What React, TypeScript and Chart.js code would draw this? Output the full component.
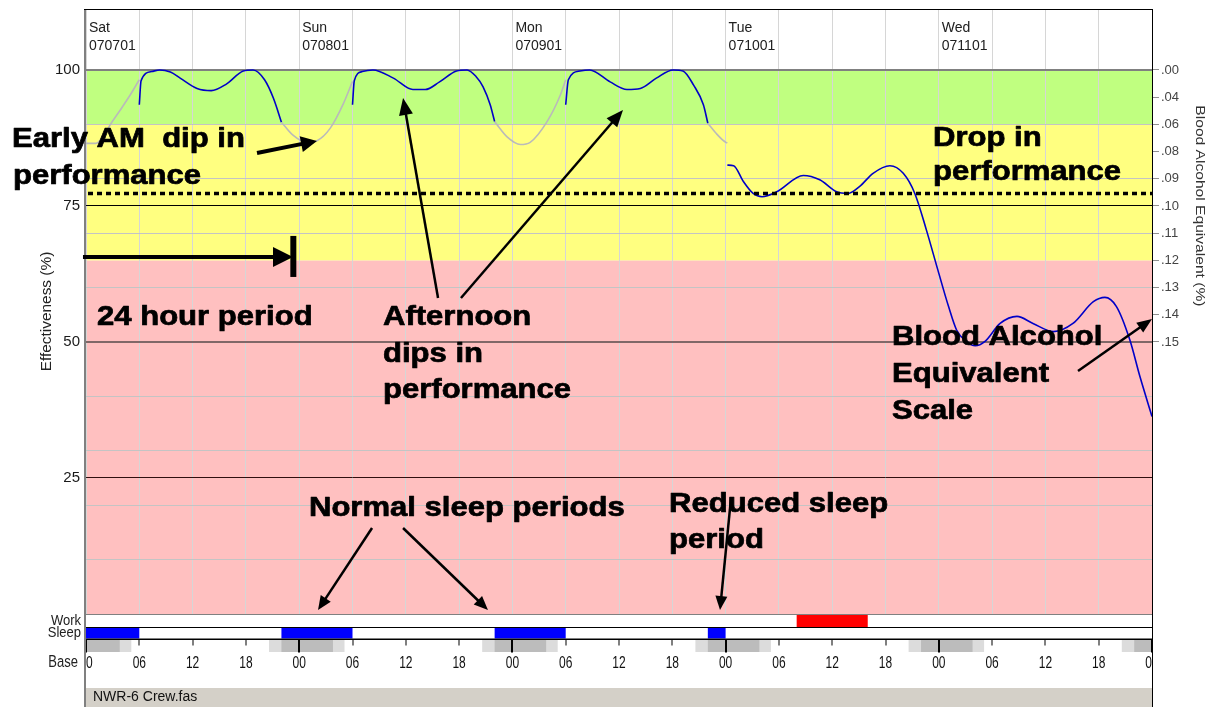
import React, { useEffect, useRef } from 'react';
import { Chart, registerables } from 'chart.js';

Chart.register(...registerables);

// ---------------- data ----------------
const dayNames = ['Sat', 'Sun', 'Mon', 'Tue', 'Wed'];
const dayDates = ['070701', '070801', '070901', '071001', '071101'];
const dayStartHours = [0, 24, 48, 72, 96];
const hourTicks = [0, 6, 12, 18, 24, 30, 36, 42, 48, 54, 60, 66, 72, 78, 84, 90, 96, 102, 108, 114, 120];

const gridLevels = [10, 20, 25, 30, 40, 50, 60, 70, 75, 80, 90, 100];
const labelLevels = [25, 50, 75, 100];
const baeLevels = [100, 95, 90, 85, 80, 75, 70, 65, 60, 55, 50];
const baeLabels = ['.00', '.04', '.06', '.08', '.09', '.10', '.11', '.12', '.13', '.14', '.15'];

const bandEdges = [0, 65, 90, 100];
const bandColors = ['#ffc0c0', '#ffff80', '#c0ff80'];
const criterionLevel = 77.3;

// effectiveness while awake [hour, %]
const awakeSat: number[][] = [[6.0, 93.6], [6.2, 98.0], [7.4, 99.7], [8.3, 100], [9.5, 99.6], [10.6, 98.5], [12.5, 96.6], [14.1, 96.2], [15.8, 97.4], [17.7, 99.8], [18.8, 100], [20.1, 98.2], [21.1, 94.8], [22.0, 90.4]];
const awakeSun: number[][] = [[30.0, 93.6], [30.2, 98.0], [31.1, 99.7], [32.3, 100], [34.6, 98.5], [36.8, 96.4], [38.2, 96.4], [39.8, 97.8], [41.7, 99.8], [42.9, 100], [43.9, 98.8], [44.7, 96.9], [45.5, 93.6], [46.0, 90.5]];
const awakeMon: number[][] = [[54.0, 93.6], [54.3, 98.2], [55.6, 99.8], [56.7, 100], [59.0, 97.8], [60.9, 96.4], [62.4, 96.6], [64.2, 98.5], [66.1, 100], [67.2, 99.8], [68.4, 97.2], [69.5, 93.6], [70.0, 90.2]];
const awakeTueWed: number[][] = [[72.2, 82.5], [72.9, 82.4], [74.0, 79.5], [75.1, 77.3], [76.1, 76.7], [77.75, 77.6], [80.75, 80.6], [82.6, 79.8], [84.5, 77.6], [85.8, 77.3], [87.1, 78.6], [88.6, 81.0], [90.5, 82.4], [92.0, 81.0], [93.3, 77.3], [94.6, 70.6], [95.9, 63.2], [97.1, 56.5], [98.0, 52.2], [99.1, 50.1], [100.1, 49.3], [101.2, 50.1], [102.9, 53.4], [104.8, 54.7], [106.6, 53.4], [108.9, 51.9], [111.1, 53.4], [113.4, 57.4], [114.7, 58.2], [116.0, 56.5], [117.5, 50.4], [118.65, 43.6], [120, 36.3]];
// effectiveness while asleep [hour, %]
const asleep1: number[][] = [[0, 86.5], [1.1, 86.5], [3.0, 90.6], [4.9, 95.2], [6.0, 98.2]];
const asleep2: number[][] = [[22.0, 90.4], [23.3, 88.0], [24.8, 86.7], [26.0, 87.0], [27.5, 89.3], [29.0, 93.9], [30.0, 97.9]];
const asleep3: number[][] = [[46.0, 90.5], [47.4, 87.7], [48.9, 86.3], [50.0, 86.7], [51.9, 90.5], [53.4, 95.4], [54.0, 98.2]];
const asleep4: number[][] = [[70.0, 90.2], [70.9, 88.4], [72.0, 86.7], [72.2, 86.6]];

const workPeriods: number[][] = [[80, 88]];
const sleepPeriods: number[][] = [[0, 6], [22, 30], [46, 54], [70, 72]];
const baseLight: number[][] = [[-3.4, 5.1], [20.6, 29.1], [44.6, 53.1], [68.6, 77.1], [92.6, 101.1], [116.6, 125.1]];
const baseDark: number[][] = [[-2, 3.8], [22, 27.8], [46, 51.8], [70, 75.8], [94, 99.8], [118, 123.8]];

// annotations in data units [hour, %]
const noteTexts: { t: string; h: number; v: number }[] = [
  { t: 'Early AM  dip in', h: -8.33, v: 85.85 },
  { t: 'performance', h: -8.22, v: 79.04 },
  { t: '24 hour period', h: 1.24, v: 53.13 },
  { t: 'Afternoon', h: 33.43, v: 53.13 },
  { t: 'dips in', h: 33.43, v: 46.32 },
  { t: 'performance', h: 33.43, v: 39.71 },
  { t: 'Drop in', h: 95.35, v: 86.03 },
  { t: 'performance', h: 95.35, v: 79.78 },
  { t: 'Blood Alcohol', h: 90.73, v: 49.45 },
  { t: 'Equivalent', h: 90.73, v: 42.56 },
  { t: 'Scale', h: 90.73, v: 35.75 },
  { t: 'Normal sleep periods', h: 25.1, v: 18.0 },
  { t: 'Reduced sleep', h: 65.63, v: 18.75 },
  { t: 'period', h: 65.63, v: 12.13 },
];
// [h1, v1, h2(tip), v2(tip), lineWidth, headLen, headHalfWidth]
const noteArrows: number[][] = [
  [19.25, 84.74, 26.0, 86.95, 4, 16, 8],
  [-0.34, 65.63, 23.3, 65.63, 4, 20, 10],
  [39.63, 58.09, 35.69, 94.85, 2.5, 17, 7],
  [42.21, 58.09, 60.45, 92.65, 2.5, 17, 7],
  [32.2, 15.81, 26.12, 0.73, 2.5, 14, 6],
  [35.69, 15.81, 45.25, 0.73, 2.5, 14, 6],
  [72.61, 21.32, 71.37, 0.73, 2.5, 14, 6],
  [111.67, 44.67, 120.0, 54.23, 2.5, 15, 6],
];
const periodBar = { h: 23.34, v1: 61.95, v2: 69.49 };

const Y_MAX = 111.2;
const FONT = "'Liberation Sans', Arial, sans-serif";

type TxtOpt = { font: string; color?: string; align?: CanvasTextAlign; base?: CanvasTextBaseline; sx?: number; sy?: number; rot?: number; stroke?: number };
function drawText(ctx: CanvasRenderingContext2D, s: string, x: number, y: number, o: TxtOpt) {
  ctx.save();
  ctx.translate(x, y);
  if (o.rot) ctx.rotate(o.rot);
  ctx.scale(o.sx ?? 1, o.sy ?? 1);
  ctx.font = o.font;
  ctx.fillStyle = o.color ?? '#000';
  ctx.textAlign = o.align ?? 'left';
  ctx.textBaseline = o.base ?? 'alphabetic';
  ctx.fillText(s, 0, 0);
  if (o.stroke) {
    ctx.strokeStyle = o.color ?? '#000';
    ctx.lineWidth = o.stroke;
    ctx.lineJoin = 'round';
    ctx.strokeText(s, 0, 0);
  }
  ctx.restore();
}

function drawArrow(ctx: CanvasRenderingContext2D, x1: number, y1: number, x2: number, y2: number, lw: number, hl: number, hw: number) {
  const a = Math.atan2(y2 - y1, x2 - x1);
  const bx = x2 - hl * Math.cos(a);
  const by = y2 - hl * Math.sin(a);
  ctx.save();
  ctx.strokeStyle = '#000';
  ctx.fillStyle = '#000';
  ctx.lineWidth = lw;
  ctx.lineCap = 'butt';
  ctx.beginPath();
  ctx.moveTo(x1, y1);
  ctx.lineTo(bx + Math.cos(a), by + Math.sin(a));
  ctx.stroke();
  ctx.beginPath();
  ctx.moveTo(x2, y2);
  ctx.lineTo(bx + hw * Math.sin(a), by - hw * Math.cos(a));
  ctx.lineTo(bx - hw * Math.sin(a), by + hw * Math.cos(a));
  ctx.closePath();
  ctx.fill();
  ctx.restore();
}

const toXY = (arr: number[][]) => arr.map(([x, y]) => ({ x, y }));

const zeroPad = (s: any) => { s.paddingTop = 0; s.paddingBottom = 0; s.paddingLeft = 0; s.paddingRight = 0; };

const backgroundPlugin = {
  id: 'bands',
  beforeDraw(chart: any) {
    const { ctx, chartArea: ca, scales } = chart;
    const y = scales.y;
    ctx.save();
    ctx.fillStyle = '#ffffff';
    ctx.fillRect(0, 0, chart.width, chart.height);
    for (let i = 0; i < bandColors.length; i++) {
      const top = y.getPixelForValue(bandEdges[i + 1]);
      const bot = y.getPixelForValue(bandEdges[i]);
      ctx.fillStyle = bandColors[i];
      ctx.fillRect(ca.left, top, ca.right - ca.left, bot - top);
    }
    ctx.restore();
  },
};

const overlayPlugin = {
  id: 'overlay',
  afterDraw(chart: any) {
    const { ctx, chartArea: ca, scales } = chart;
    const xs = scales.x;
    const ys = scales.y;
    const px = (h: number) => xs.getPixelForValue(h);
    const py = (v: number) => ys.getPixelForValue(v);
    const L = ca.left, R = ca.right;
    const B = ca.bottom;
    ctx.save();

    // criterion dotted line
    ctx.save();
    ctx.strokeStyle = '#000';
    ctx.lineWidth = 3.5;
    ctx.setLineDash([5, 4]);
    ctx.beginPath();
    ctx.moveTo(L + 2, py(criterionLevel));
    ctx.lineTo(R, py(criterionLevel));
    ctx.stroke();
    ctx.restore();

    // header day labels
    for (let i = 0; i < dayNames.length; i++) {
      const x = px(dayStartHours[i]) + 3;
      drawText(ctx, dayNames[i], x, ca.top + 23, { font: `14px ${FONT}`, color: '#202020' });
      drawText(ctx, dayDates[i], x, ca.top + 41, { font: `14px ${FONT}`, color: '#202020' });
    }

    // ---- bottom strip ----
    const workTop = B + 1, workBot = B + 13;
    const sleepTop = B + 14, sleepBot = B + 24.5;
    const baseTop = B + 26, baseBot = B + 38;
    ctx.fillStyle = '#ffffff';
    ctx.fillRect(L, B, R - L, chart.height - B);
    ctx.fillStyle = '#808080';
    ctx.fillRect(L, B, R - L, 1);
    for (const [a, b] of workPeriods) {
      ctx.fillStyle = '#ff0000';
      ctx.fillRect(px(a), workTop, px(b) - px(a), workBot - workTop);
    }
    for (const [a, b] of sleepPeriods) {
      ctx.fillStyle = '#0000ff';
      ctx.fillRect(px(a), sleepTop, px(b) - px(a), sleepBot - sleepTop);
    }
    ctx.fillStyle = '#000';
    ctx.fillRect(L, workBot, R - L, 1);
    ctx.fillRect(L, sleepBot, R - L, 1.5);
    ctx.save();
    ctx.beginPath();
    ctx.rect(L, baseTop - 2, R - L, 60);
    ctx.clip();
    for (const [a, b] of baseLight) {
      ctx.fillStyle = '#dcdcdc';
      ctx.fillRect(px(a), baseTop, px(b) - px(a), baseBot - baseTop);
    }
    for (const [a, b] of baseDark) {
      ctx.fillStyle = '#bcbcbc';
      ctx.fillRect(px(a), baseTop, px(b) - px(a), baseBot - baseTop);
    }
    ctx.fillStyle = '#000';
    for (const h of hourTicks) {
      const x = Math.round(px(h));
      const long = h % 24 === 0;
      ctx.fillRect(x - (long ? 1 : 0.5), sleepBot + 1, long ? 2 : 1, long ? 13 : 6);
    }
    for (const h of hourTicks) {
      const s = String(h % 24).padStart(2, '0');
      drawText(ctx, s, px(h), B + 49, { font: `12px ${FONT}`, color: '#111', align: 'center', base: 'middle', sy: 1.4 });
    }
    ctx.restore();

    // row labels
    drawText(ctx, 'Work', L - 5, B + 7, { font: `13px ${FONT}`, color: '#222', align: 'right', base: 'middle', sy: 1.15 });
    drawText(ctx, 'Sleep', L - 5, B + 19, { font: `13px ${FONT}`, color: '#222', align: 'right', base: 'middle', sy: 1.15 });
    drawText(ctx, 'Base', L - 8, B + 49, { font: `13px ${FONT}`, color: '#222', align: 'right', base: 'middle', sy: 1.25 });

    // status bar
    ctx.fillStyle = '#d4d0c8';
    ctx.fillRect(L, B + 74, R - L, chart.height - (B + 74));
    drawText(ctx, 'NWR-6 Crew.fas', L + 7, B + 83, { font: `14px ${FONT}`, color: '#111', base: 'middle', sy: 1.1 });

    // frame
    ctx.fillStyle = '#808080';
    ctx.fillRect(L - 2, ca.top, 2, chart.height - ca.top);
    ctx.fillStyle = '#000';
    ctx.fillRect(L - 2, ca.top, R - L + 3, 1);
    ctx.fillRect(R, ca.top, 1, chart.height - ca.top);

    // axis titles
    drawText(ctx, 'Effectiveness (%)', 47, (ca.top + B) / 2, { font: `14px ${FONT}`, color: '#222', align: 'center', base: 'middle', rot: -Math.PI / 2, sx: 1.1 });
    drawText(ctx, 'Blood Alcohol Equivalent (%)', 1200, (py(100) + py(50)) / 2, { font: `13px ${FONT}`, color: '#333', align: 'center', base: 'middle', rot: Math.PI / 2, sx: 1.2 });

    // annotations
    for (const a of noteArrows) {
      drawArrow(ctx, px(a[0]), py(a[1]), px(a[2]), py(a[3]), a[4], a[5], a[6]);
    }
    ctx.fillStyle = '#000';
    ctx.fillRect(px(periodBar.h) - 3, py(periodBar.v2), 6, py(periodBar.v1) - py(periodBar.v2));
    for (const n of noteTexts) {
      drawText(ctx, n.t, px(n.h), py(n.v), { font: `bold 27px ${FONT}`, color: '#000', sx: 1.15, stroke: 0.7 });
    }
    ctx.restore();
  },
};

export default function App() {
  const ref = useRef<HTMLCanvasElement | null>(null);
  useEffect(() => {
    if (!ref.current) return;
    Chart.defaults.font.family = FONT;
    const blue = { borderColor: '#0000c8', borderWidth: 1.6, pointRadius: 0, cubicInterpolationMode: 'monotone' as const, fill: false };
    const gray = { borderColor: '#bababa', borderWidth: 1.6, pointRadius: 0, cubicInterpolationMode: 'monotone' as const, fill: false };
    const chart = new Chart(ref.current, {
      type: 'line',
      data: {
        datasets: [
          { label: 'asleep1', data: toXY(asleep1), ...gray },
          { label: 'asleep2', data: toXY(asleep2), ...gray },
          { label: 'asleep3', data: toXY(asleep3), ...gray },
          { label: 'asleep4', data: toXY(asleep4), ...gray },
          { label: 'awakeSat', data: toXY(awakeSat), ...blue },
          { label: 'awakeSun', data: toXY(awakeSun), ...blue },
          { label: 'awakeMon', data: toXY(awakeMon), ...blue },
          { label: 'awakeTueWed', data: toXY(awakeTueWed), ...blue },
        ],
      },
      options: {
        responsive: false,
        animation: false,
        devicePixelRatio: 1,
        layout: { padding: { top: 9, left: 0, right: 0, bottom: 0 } },
        plugins: { legend: { display: false }, tooltip: { enabled: false } },
        scales: {
          x: {
            type: 'linear',
            min: 0,
            max: 120,
            afterBuildTicks: (s: any) => { s.ticks = hourTicks.map((v) => ({ value: v })); },
            ticks: { display: false },
            grid: { color: '#d6d6d6', lineWidth: 1, drawTicks: false },
            border: { display: false },
            afterFit: (s: any) => { s.height = 93; zeroPad(s); },
          },
          y: {
            min: 0,
            max: Y_MAX,
            position: 'left',
            afterBuildTicks: (s: any) => { s.ticks = gridLevels.map((v) => ({ value: v })); },
            ticks: {
              autoSkip: false,
              padding: 6,
              color: '#1a1a1a',
              font: { size: 15, family: FONT },
              callback: (v: any) => (labelLevels.includes(Number(v)) ? String(v) : ''),
            },
            grid: {
              drawTicks: false,
              color: (c: any) => {
                const v = c.tick && c.tick.value;
                if (v === 25) return '#301010';
                if (v === 50) return '#806868';
                if (v === 75) return '#000000';
                if (v === 100) return '#808080';
                return '#c4c4c4';
              },
              lineWidth: (c: any) => {
                const v = c.tick && c.tick.value;
                return v === 50 || v === 100 ? 2 : 1;
              },
            },
            border: { display: false },
            afterFit: (s: any) => { s.width = 86; zeroPad(s); },
          },
          y2: {
            min: 0,
            max: Y_MAX,
            position: 'right',
            afterBuildTicks: (s: any) => { s.ticks = baeLevels.map((v) => ({ value: v })); },
            ticks: {
              autoSkip: false,
              padding: 2,
              color: '#444',
              font: { size: 13, family: FONT },
              callback: (_v: any, i: number) => baeLabels[i],
            },
            grid: { drawOnChartArea: false, drawTicks: true, tickLength: 7, tickColor: '#909090' },
            border: { display: false },
            afterFit: (s: any) => { s.width = 64; zeroPad(s); },
          },
        },
      } as any,
      plugins: [backgroundPlugin, overlayPlugin],
    });
    return () => chart.destroy();
  }, []);
  return (
    <div style={{ position: 'absolute', left: 0, top: 0, width: 1216, height: 707, background: '#fff' }}>
      <canvas ref={ref} width={1216} height={707} style={{ display: 'block' }} />
    </div>
  );
}
